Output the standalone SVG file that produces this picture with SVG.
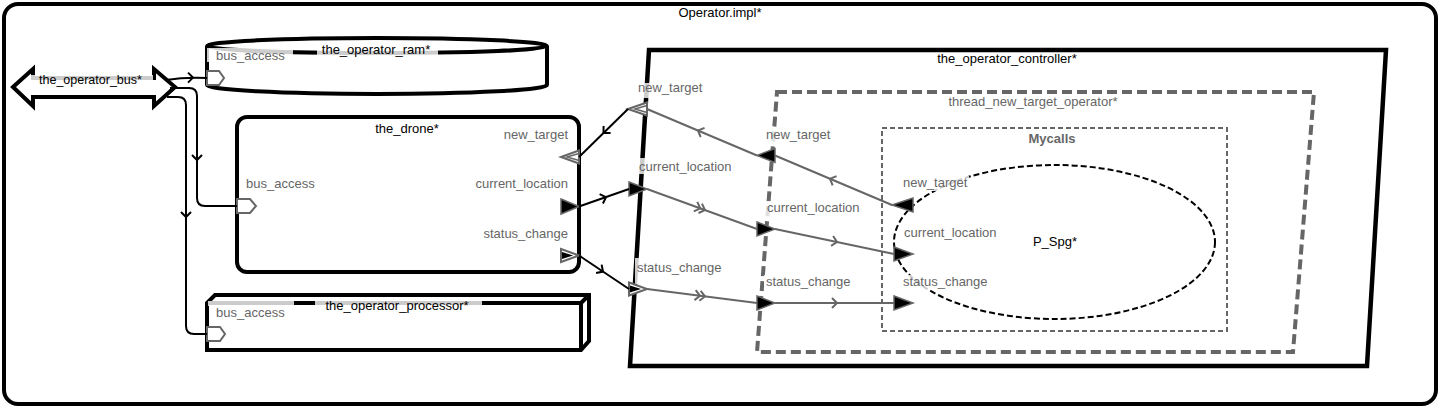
<svg xmlns="http://www.w3.org/2000/svg" xmlns:xlink="http://www.w3.org/1999/xlink" width="1441" height="409" viewBox="0 0 1441 409">
<style>
text{font-family:"Liberation Sans",Arial,sans-serif;font-size:13px}
.nm{fill:#000}
.pl{fill:#666}
.lb{fill:#fff;fill-opacity:0.8}
.box{fill:#fff;stroke:#000;stroke-width:4}
.pa{fill:#fff;stroke:#666;stroke-width:2}
.pf{fill:#000;stroke:#666;stroke-width:1.5}
.ci{fill:none;stroke:#666;stroke-width:1.5}
.cb{fill:none;stroke:#000;stroke-width:2}
.cg{fill:none;stroke:#666;stroke-width:2}
</style>
<defs>
<path id="ch" d="M-5,-5 L0,0 L-5,5" fill="none"/>
<path id="ch2" d="M-9,-5 L-4,0 L-9,5 M-4,-5 L1,0 L-4,5" fill="none"/>
</defs>
<rect width="1441" height="409" fill="#fff"/>
<g id="operator_impl">
<rect x="4" y="4" width="1432" height="400" rx="14" fill="#fff" stroke="#000" stroke-width="4"/>
<text x="720" y="17" text-anchor="middle" class="nm">Operator.impl*</text>
</g>
<g id="the_operator_bus">
<polygon class="box" points="13,87 33,69 33,78 154,78 154,69 175,87 154,106 154,97 33,97 33,106"/>
<rect class="lb" x="31" y="75" width="122" height="12"/>
<text x="39" y="84" class="nm" style="font-size:12.5px">the_operator_bus*</text>
</g>
<g id="the_operator_ram">
<path class="box" d="M207,46 A170,8 0 0 1 547,46 L547,85 A170,9 0 0 1 207,85 Z"/>
<path d="M207,46 A170,7 0 0 0 547,46" fill="none" stroke="#000" stroke-width="4"/>
<rect class="lb" x="207" y="48" width="86" height="14"/>
<rect class="lb" x="317" y="43" width="121" height="14"/>
<text x="376" y="54" text-anchor="middle" class="nm">the_operator_ram*</text>
<text x="216" y="60" class="pl">bus_access</text>
<polygon class="pa" points="207,71 219,71 224,78 219,85 207,85"/>
</g>
<g id="the_drone">
<rect class="box" x="237" y="117" width="342" height="155" rx="10"/>
<text x="407" y="133" text-anchor="middle" class="nm">the_drone*</text>
<text x="568" y="139" text-anchor="end" class="pl">new_target</text>
<text x="568" y="188" text-anchor="end" class="pl">current_location</text>
<text x="568" y="238" text-anchor="end" class="pl">status_change</text>
<text x="246" y="188" class="pl">bus_access</text>
<polygon class="pa" points="237,199 250,199 256,206 250,213 237,213"/>
<polygon class="pa" points="561,157 579,150.5 579,163.5"/>
<polyline class="ci" points="579,153.5 567,157 579,160.5"/>
<polygon class="pf" points="561,199 579,206.5 561,214"/>
<polygon class="pa" points="561,249 579,255.5 561,262"/>
<polygon fill="#000" points="562,252 573,255.5 562,259"/>
</g>
<g id="the_operator_processor">
<path class="box" d="M207,303 L215,295 L589,295 L589,341 L581,350 L207,350 Z"/>
<path d="M207,303 L581,303 L581,350 M581,303 L589,295" fill="none" stroke="#000" stroke-width="4"/>
<rect class="lb" x="208" y="301" width="86" height="5"/>
<rect class="lb" x="315" y="299" width="167" height="14"/>
<text x="397" y="310" text-anchor="middle" class="nm">the_operator_processor*</text>
<text x="216" y="317" class="pl">bus_access</text>
<polygon class="pa" points="207,327 220,327 225,334 220,341 207,341"/>
</g>
<g id="the_operator_controller">
<polygon points="649,50 1386,50 1367,366 630,366" fill="#fff" stroke="#000" stroke-width="4.5"/>
<text x="1007" y="63" text-anchor="middle" class="nm">the_operator_controller*</text>
<rect class="lb" x="636" y="83" width="67" height="15"/>
<rect class="lb" x="637" y="158" width="98" height="16"/>
<rect class="lb" x="635" y="258" width="85" height="26"/>
<text x="638" y="92" class="pl">new_target</text>
<text x="639" y="171" class="pl">current_location</text>
<text x="637" y="272" class="pl">status_change</text>
<polygon class="pa" points="628,109 647,102.5 647,115.5"/>
<polyline class="ci" points="647,105.5 635,109 647,112.5"/>
<polygon class="pf" points="629,182 647,189 629,196"/>
<polygon class="pa" points="629,282.5 647,289 629,295.5"/>
<polygon fill="#000" points="630,285.5 641,289 630,292.5"/>
</g>
<g id="thread_new_target_operator">
<polygon points="777,92 1314,92 1293,352 757,352" fill="none" stroke="#666" stroke-width="4" stroke-dasharray="10 5"/>
<text x="1033" y="106" text-anchor="middle" class="pl">thread_new_target_operator*</text>
<rect class="lb" x="764" y="129" width="68" height="14"/>
<rect class="lb" x="765" y="201" width="98" height="16"/>
<rect class="lb" x="764" y="275" width="86" height="14"/>
<text x="766" y="139" class="pl">new_target</text>
<text x="767" y="212" class="pl">current_location</text>
<text x="766" y="286" class="pl">status_change</text>
<polygon class="pf" points="757,155.5 775,148.5 775,162.5"/>
<polygon class="pf" points="757,222 775,229 757,236"/>
<polygon class="pf" points="757,296 775,303 757,310"/>
</g>
<g id="Mycalls">
<rect x="882" y="128" width="345" height="203" fill="none" stroke="#666" stroke-width="2" stroke-dasharray="5 3"/>
<text x="1052" y="143" text-anchor="middle" class="pl" font-weight="bold">Mycalls</text>
</g>
<g id="P_Spg">
<ellipse cx="1054.5" cy="242" rx="160.5" ry="77" fill="none" stroke="#000" stroke-width="2" stroke-dasharray="6 3"/>
<text x="1055" y="246" text-anchor="middle" class="nm">P_Spg*</text>
<rect class="lb" x="901" y="176" width="68" height="15"/>
<rect class="lb" x="902" y="226" width="98" height="15"/>
<rect class="lb" x="901" y="275" width="86" height="15"/>
<text x="903" y="187" class="pl">new_target</text>
<text x="904" y="237" class="pl">current_location</text>
<text x="903" y="286" class="pl">status_change</text>
<polygon class="pf" points="892,205 913,198 913,212"/>
<polygon class="pf" points="894,247 913,254 894,261"/>
<polygon class="pf" points="894,296 913,303 894,310"/>
</g>
<g id="connectors">
<path class="cb" d="M166,80 Q185,77 207,78"/>
<path class="cb" d="M170,88 L189,88 Q197,88 197,96 L197,198 Q197,206 205,206 L237,206"/>
<path class="cb" d="M167,97 L178,97 Q186,97 186,105 L186,326 Q186,334 194,334 L207,334"/>
<use xlink:href="#ch" stroke="#000" stroke-width="2" transform="translate(193,77.6)"/>
<use xlink:href="#ch" stroke="#000" stroke-width="2" transform="translate(197,160) rotate(90)"/>
<use xlink:href="#ch" stroke="#000" stroke-width="2" transform="translate(186,217) rotate(90)"/>
<path class="cb" d="M628,109 L579,157"/>
<use xlink:href="#ch" stroke="#000" stroke-width="2" transform="translate(603.5,133) rotate(135.6)"/>
<path class="cg" d="M757,155.5 L647,109"/>
<use xlink:href="#ch" stroke="#666" stroke-width="2" transform="translate(698,130.5) rotate(202.9)"/>
<path class="cg" d="M892,205 L775,155.5"/>
<use xlink:href="#ch" stroke="#666" stroke-width="2" transform="translate(830,178.8) rotate(202.9)"/>
<path class="cb" d="M579,206.5 L629,189"/>
<use xlink:href="#ch" stroke="#000" stroke-width="2" transform="translate(606,197.1) rotate(-19.3)"/>
<path class="cg" d="M647,189 L757,229"/>
<use xlink:href="#ch2" stroke="#666" stroke-width="2" transform="translate(704,209.7) rotate(20)"/>
<path class="cg" d="M775,229 L894,254"/>
<use xlink:href="#ch" stroke="#666" stroke-width="2" transform="translate(837,242) rotate(11.9)"/>
<path class="cb" d="M579,255.5 L629,289"/>
<use xlink:href="#ch" stroke="#000" stroke-width="2" transform="translate(603,271.6) rotate(33.8)"/>
<path class="cg" d="M647,289 L757,303"/>
<use xlink:href="#ch2" stroke="#666" stroke-width="2" transform="translate(704,296.3) rotate(7.25)"/>
<path class="cg" d="M775,303 L894,303"/>
<use xlink:href="#ch" stroke="#666" stroke-width="2" transform="translate(837,303)"/>
</g>
</svg>
